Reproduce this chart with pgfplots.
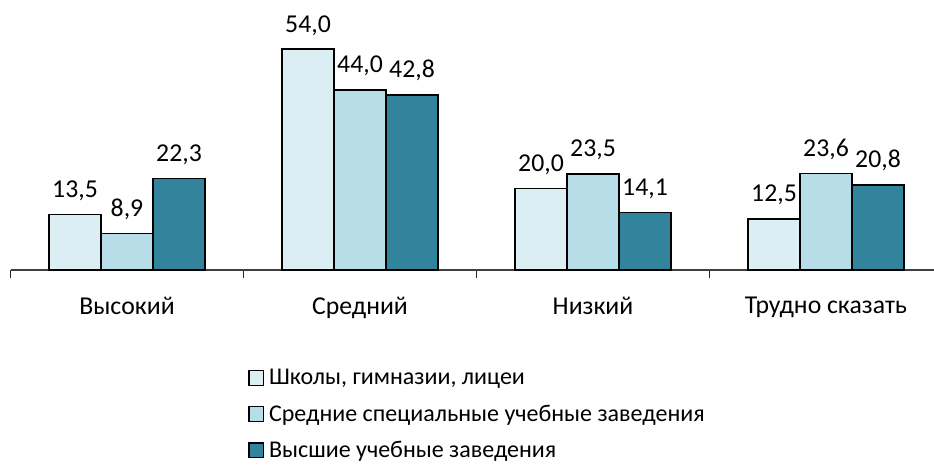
\documentclass[border=0pt]{standalone}
\usepackage{pgfplots}
\pgfplotsset{compat=1.18}
\usepackage{fontspec}
\setmainfont{Carlito}
\definecolor{c1}{HTML}{DBEEF4}
\definecolor{c2}{HTML}{B7DEE8}
\definecolor{c3}{HTML}{31849B}
\begin{document}
\begin{tikzpicture}[font=\fontsize{19.3}{22}\selectfont]
\begin{axis}[
  at={(7.875pt,147pt)}, anchor=south west,
  scale only axis, width=699pt, height=184.05pt,
  xmin=-0.5, xmax=3.5, ymin=0, ymax=60,
  axis x line*=bottom, axis y line=none,
  x axis line style={black!75, line width=1pt, -},
  xtick={0,1,2,3},
  xticklabels={Высокий,Средний,Низкий,Трудно сказать},
  major tick length=0pt,
  minor xtick={-0.5,0.5,1.5,2.5,3.5},
  minor tick length=6pt,
  tick align=outside,
  tick style={black!85, line width=1pt},
  xticklabel style={yshift=-17pt, font=\fontsize{19.3}{22}\selectfont},
  clip=false,
  ybar, bar width=39pt,
  /pgf/number format/assume math mode=true,
  nodes near coords={\pgfmathprintnumber[fixed,fixed zerofill,precision=1,use comma]{\pgfplotspointmeta}},
  every node near coord/.append style={font=\fontsize{19.3}{22}\selectfont, yshift=6.5pt, black},
  legend style={at={(0.255,-0.39)}, anchor=north west, draw=none, fill=none,
    font=\fontsize{18}{21}\selectfont, row sep=8.5pt, inner sep=0pt,
    nodes={inner xsep=3.5pt, inner ysep=2.5pt}},
  legend cell align=left,
  legend image code/.code={\draw[#1,draw=black,line width=1pt] (0pt,-5.5pt) rectangle (11pt,5.5pt);},
]
\addplot[fill=c1, draw=black, line width=1pt, bar shift=-39pt] coordinates {(0,13.5) (1,54.0) (2,20.0) (3,12.5)};
\addplot[fill=c2, draw=black, line width=1pt, bar shift=0pt] coordinates {(0,8.9) (1,44.0) (2,23.5) (3,23.6)};
\addplot[fill=c3, draw=black, line width=1pt, bar shift=39pt] coordinates {(0,22.3) (1,42.8) (2,14.1) (3,20.8)};
\legend{Школы{,} гимназии{,} лицеи, Средние специальные учебные заведения, Высшие учебные заведения}
\end{axis}
\pgfresetboundingbox
\useasboundingbox (0pt,0pt) rectangle (700.5pt,349.5pt);
\end{tikzpicture}
\end{document}
